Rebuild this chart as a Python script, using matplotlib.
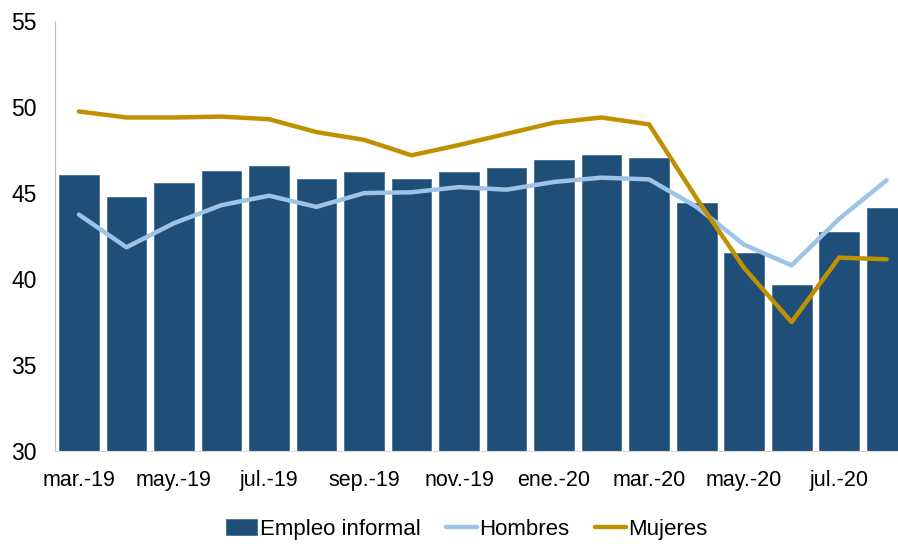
import numpy as np
import matplotlib.pyplot as plt

plt.rcParams['font.family'] = ['Liberation Sans', 'DejaVu Sans']

# months mar-19 .. ago-20
months = ['mar.-19', 'abr.-19', 'may.-19', 'jun.-19', 'jul.-19', 'ago.-19',
          'sep.-19', 'oct.-19', 'nov.-19', 'dic.-19', 'ene.-20', 'feb.-20',
          'mar.-20', 'abr.-20', 'may.-20', 'jun.-20', 'jul.-20', 'ago.-20']

empleo_informal = [46.05, 44.8, 45.6, 46.3, 46.6, 45.85, 46.2, 45.85, 46.2,
                   46.45, 46.9, 47.2, 47.05, 44.45, 41.5, 39.65, 42.75, 44.15]
hombres = [43.75, 41.85, 43.25, 44.3, 44.85, 44.2, 45.0, 45.05, 45.35,
           45.2, 45.65, 45.9, 45.8, 44.2, 42.0, 40.8, 43.5, 45.75]
mujeres = [49.75, 49.4, 49.4, 49.45, 49.3, 48.55, 48.1, 47.2, 47.8,
           48.45, 49.1, 49.4, 49.0, 44.7, 40.65, 37.5, 41.25, 41.15]

x = np.arange(len(months))

fig = plt.figure(figsize=(8.98, 5.44), dpi=100)
ax = fig.add_axes([0.0612, 0.171, 0.9388, 0.790])

bars = ax.bar(x, empleo_informal, width=0.84, color='#1F4E79',
              edgecolor='#4A6E92', linewidth=0.6, label='Empleo informal', zorder=2)
l1, = ax.plot(x, hombres, color='#9DC3E6', lw=3.2, label='Hombres', zorder=3,
              solid_capstyle='round')
l2, = ax.plot(x, mujeres, color='#BF9000', lw=3.2, label='Mujeres', zorder=4,
              solid_capstyle='round')

ax.set_ylim(30, 55)
ax.set_xlim(-0.505, 17.24)
ax.set_yticks([30, 35, 40, 45, 50, 55])
ax.set_xticks(x[::2])
ax.set_xticklabels(months[::2])
ax.tick_params(axis='y', length=0, pad=13, labelsize=16.5)
ax.tick_params(axis='x', length=0, pad=14, labelsize=15.5)

for s in ['top', 'right']:
    ax.spines[s].set_visible(False)
ax.spines['left'].set_color('#BFBFBF')
ax.spines['bottom'].set_color('#D9D9D9')

fig.legend([bars, l1, l2], ['Empleo informal', 'Hombres', 'Mujeres'],
           loc='center', bbox_to_anchor=(0.52, 0.027), ncol=3, frameon=False,
           fontsize=16, handlelength=1.4, handletextpad=0.1,
           columnspacing=1.15)

fig.savefig('out.png', dpi=100)
